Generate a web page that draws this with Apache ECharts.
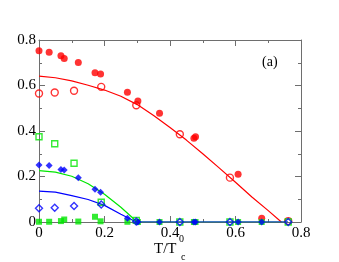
<!DOCTYPE html>
<html>
<head>
<meta charset="utf-8">
<script src="https://cdn.jsdelivr.net/npm/echarts@6/dist/echarts.min.js"></script>
<style>
html,body{margin:0;padding:0;background:#fff;}
#c{width:339px;height:262px;}
</style>
</head>
<body>
<div id="c"></div>
<script>
// Data
var xTicks = [0, 0.2, 0.4, 0.6, 0.8];
var yTicks = [0, 0.2, 0.4, 0.6, 0.8];

var filledX = [0, 0.031, 0.067, 0.077, 0.12, 0.171, 0.188, 0.27, 0.302, 0.368, 0.473, 0.478, 0.608, 0.68];
var redFilled = [0.753, 0.746, 0.731, 0.719, 0.701, 0.656, 0.651, 0.570, 0.532, 0.478, 0.368, 0.375, 0.210, 0.016];
var blueFilled = [0.251, 0.248, 0.231, 0.229, 0.195, 0.144, 0.131, 0.017, 0, 0, 0, 0, 0, 0];
var greenFilled = [0.001, 0.001, 0.004, 0.011, 0.002, 0.023, 0.003, 0.001, 0, 0, 0, 0, 0, 0];

var openX = [0, 0.048, 0.107, 0.19, 0.297, 0.43, 0.583, 0.761];
var redOpen = [0.565, 0.569, 0.577, 0.594, 0.513, 0.386, 0.195, 0.004];
var greenOpen = [0.375, 0.344, 0.258, 0.087, 0.007, 0, 0, 0];
var blueOpen = [0.060, 0.063, 0.070, 0.077, 0.002, 0, 0, 0];

var redLineX = [0, 0.05, 0.1, 0.15, 0.2, 0.25, 0.3, 0.35, 0.4, 0.45, 0.5, 0.55, 0.6, 0.65, 0.7, 0.74];
var redLineY = [0.641, 0.634, 0.620, 0.601, 0.580, 0.553, 0.516, 0.468, 0.415, 0.360, 0.300, 0.238, 0.175, 0.110, 0.050, 0];

var greenLineX = [0, 0.05, 0.1, 0.15, 0.2, 0.25, 0.3, 0.76];
var greenLineY = [0.226, 0.219, 0.201, 0.168, 0.122, 0.065, 0, 0];

var blueLineX = [0, 0.05, 0.1, 0.15, 0.2, 0.25, 0.297, 0.76];
var blueLineY = [0.136, 0.131, 0.116, 0.099, 0.073, 0.034, 0, 0];

function pairs(xs, ys) { return xs.map(function (x, i) { return [x, ys[i]]; }); }

var RED = '#ff0000', GREEN = '#00e600', BLUE = '#0000ff';
var AX = '#6e6e6e';
var FONT = 'Liberation Serif';

function fmt(v) { return v === 0 ? '0' : v.toFixed(1); }

var axisCommon = {
  min: 0, max: 0.8, interval: 0.2,
  axisLine: { show: true, onZero: false, lineStyle: { color: AX, width: 1 } },
  axisTick: { show: true, inside: true, length: 6, lineStyle: { color: AX } },
  minorTick: { show: true, splitNumber: 2, length: 3, lineStyle: { color: AX } },
  splitLine: { show: false }
};

var chart = echarts.init(document.getElementById('c'), null, { renderer: 'canvas' });
chart.setOption({
  animation: false,
  backgroundColor: '#fff',
  grid: { left: 39, right: 38, top: 40, bottom: 40, containLabel: false },
  xAxis: [
    Object.assign({}, axisCommon, {
      type: 'value', position: 'bottom',
      axisLabel: { show: true, margin: 4, color: '#000', fontFamily: FONT, fontSize: 15, formatter: fmt,
        customValues: xTicks }
    }),
    Object.assign({}, axisCommon, {
      type: 'value', position: 'top',
      axisLabel: { show: false }
    })
  ],
  yAxis: [
    Object.assign({}, axisCommon, {
      type: 'value', position: 'left',
      axisLabel: { show: true, margin: 3, color: '#000', fontFamily: FONT, fontSize: 15, formatter: fmt,
        customValues: yTicks }
    }),
    Object.assign({}, axisCommon, {
      type: 'value', position: 'right',
      axisLabel: { show: false }
    })
  ],
  graphic: [
    { type: 'text', left: 262, top: 55, style: { text: '(a)', font: '14px "Liberation Serif"', fill: '#000' } },
    { type: 'text', left: 154, top: 242, style: { text: 'T/T', font: '15px "Liberation Serif"', fill: '#000' } },
    { type: 'text', left: 179, top: 234, style: { text: '0', font: '10px "Liberation Serif"', fill: '#000' } },
    { type: 'text', left: 181, top: 252, style: { text: 'c', font: '10px "Liberation Serif"', fill: '#000' } }
  ],
  series: [
    { type: 'line', data: pairs(redLineX, redLineY), showSymbol: false, symbol: 'none',
      lineStyle: { color: RED, width: 1.2 }, z: 2 },
    { type: 'line', data: pairs(greenLineX, greenLineY), showSymbol: false, symbol: 'none',
      lineStyle: { color: GREEN, width: 1.2 }, z: 2 },
    { type: 'line', data: pairs(blueLineX, blueLineY), showSymbol: false, symbol: 'none',
      lineStyle: { color: BLUE, width: 1.2 }, z: 2 },

    { type: 'scatter', data: pairs(filledX, redFilled), symbol: 'circle', symbolSize: 7,
      itemStyle: { color: RED }, z: 3 },
    { type: 'scatter', data: pairs(openX, redOpen), symbol: 'circle', symbolSize: 7,
      itemStyle: { color: 'rgba(0,0,0,0)', borderColor: RED, borderWidth: 1.4 }, z: 3 },

    { type: 'scatter', data: pairs(filledX, greenFilled), symbol: 'rect', symbolSize: 6,
      itemStyle: { color: GREEN }, z: 4 },
    { type: 'scatter', data: pairs(openX, greenOpen), symbol: 'rect', symbolSize: 6,
      itemStyle: { color: 'rgba(0,0,0,0)', borderColor: GREEN, borderWidth: 1.4 }, z: 4 },

    { type: 'scatter', data: pairs(filledX, blueFilled), symbol: 'diamond', symbolSize: [7, 7],
      itemStyle: { color: BLUE }, z: 5 },
    { type: 'scatter', data: pairs(openX, blueOpen), symbol: 'diamond', symbolSize: [7, 7],
      itemStyle: { color: 'rgba(0,0,0,0)', borderColor: BLUE, borderWidth: 1.4 }, z: 5 }
  ]
});
</script>
</body>
</html>
